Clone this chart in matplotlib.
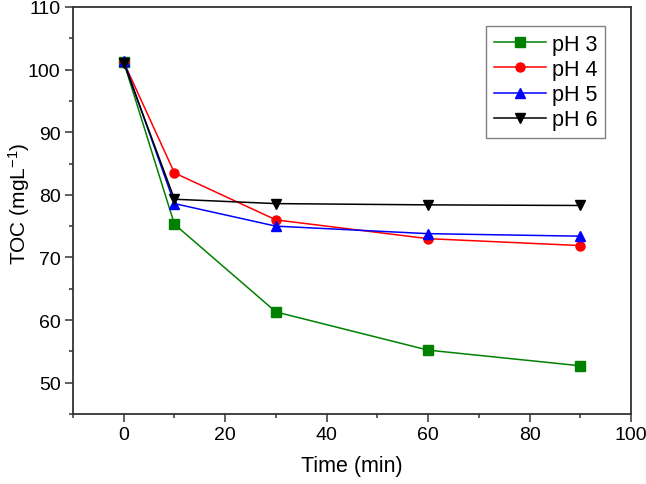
import matplotlib
matplotlib.use('Agg')
import matplotlib.pyplot as plt
from matplotlib.ticker import MultipleLocator

time = [0, 10, 30, 60, 90]
ph3 = [101.2, 75.3, 61.3, 55.2, 52.7]
ph4 = [101.2, 83.5, 76.0, 73.0, 71.9]
ph5 = [101.4, 78.6, 75.0, 73.8, 73.4]
ph6 = [101.1, 79.3, 78.6, 78.4, 78.3]
labels = ['pH 3', 'pH 4', 'pH 5', 'pH 6']

plt.rcParams.update({'font.family': ['Liberation Sans', 'DejaVu Sans'], 'font.size': 14})
fig = plt.figure(figsize = (6.46, 4.85), dpi = 100)
ax = fig.add_axes([73 / 646, 70 / 485, 558 / 646, 407 / 485])

styles = [('green', 's'), ('red', 'o'), ('blue', '^'), ('black', 'v')]
for y, lab, (c, m) in zip([ph3, ph4, ph5, ph6], labels, styles):
    ax.plot(time, y, color = c, marker = m, ms = 6.5, lw = 1.1, label = lab)

ax.set_xlim(-10, 100); ax.set_ylim(45, 110)
ax.xaxis.set_major_locator(MultipleLocator(20)); ax.xaxis.set_minor_locator(MultipleLocator(10))
ax.yaxis.set_major_locator(MultipleLocator(10)); ax.yaxis.set_minor_locator(MultipleLocator(5))
ax.tick_params(which = 'both', direction = 'out', top = False, right = False, labelsize = 14, color = '#333333')
ax.tick_params(which = 'major', length = 5.5, width = 1.1)
ax.tick_params(which = 'minor', length = 3, width = 1.1)
for s in ax.spines.values():
    s.set_linewidth(1.3); s.set_color('#333333')
ax.set_xlabel('Time (min)', fontsize = 15.5, labelpad = 8)
ax.set_ylabel('TOC (mgL$\\mathregular{^{-1}}$)', fontsize = 15)
ax.yaxis.set_label_coords(-0.074, (415 - 204) / 407)
leg = ax.legend(loc = 'upper right', bbox_to_anchor = (0.9534, 0.9533), fontsize = 15.5, fancybox = False,
                framealpha = 1, edgecolor = 'gray', handlelength = 2.4, borderaxespad = 0, labelspacing = 0.2,
                handletextpad = 0.3, borderpad = 0.35)
leg.get_frame().set_linewidth(1)

fig.savefig('out.png', dpi = 100)
